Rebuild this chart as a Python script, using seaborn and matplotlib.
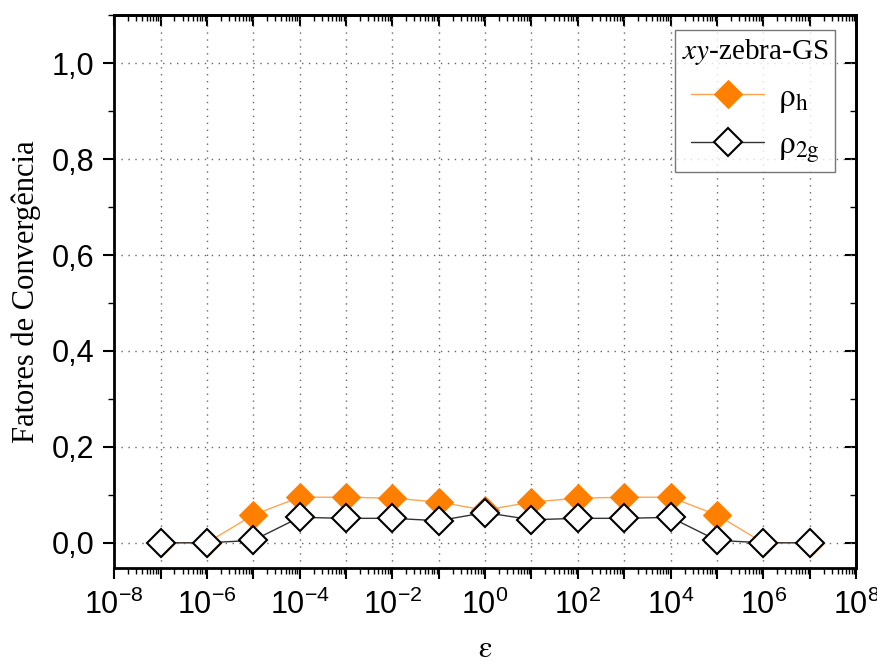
import numpy as np
import matplotlib
matplotlib.use("Agg")
import matplotlib.pyplot as plt
import matplotlib.ticker as mticker
import seaborn as sns

# dados
eps = [1e-7, 1e-6, 1e-5, 1e-4, 1e-3, 1e-2, 1e-1, 1e0,
       1e1, 1e2, 1e3, 1e4, 1e5, 1e6, 1e7]
rho_h = [0.0, 0.0, 0.058, 0.095, 0.095, 0.093, 0.085, 0.068,
         0.085, 0.093, 0.095, 0.095, 0.058, 0.0, 0.0]
rho_2g = [0.0, 0.0, 0.005, 0.053, 0.051, 0.051, 0.046, 0.063,
          0.048, 0.051, 0.051, 0.053, 0.005, 0.0, 0.0]

sns.set_style("white")
plt.rcParams['font.family'] = ['Liberation Sans', 'DejaVu Sans']
plt.rcParams['mathtext.fontset'] = 'stix'
for k in ['text.color', 'axes.labelcolor', 'xtick.color', 'ytick.color']:
    plt.rcParams[k] = 'black'

fig = plt.figure(figsize=(8.78, 6.64), dpi=100)
ax = fig.add_axes([0.130, 0.145, 0.845, 0.832])

# curvas
sns.lineplot(x=eps, y=rho_h, ax=ax, color='#FFA54F', linewidth=1.0,
             marker='D', markersize=14, markerfacecolor='#FF8000',
             markeredgecolor='#FF8000', label=r'$\mathrm{\rho_h}$')
sns.lineplot(x=eps, y=rho_2g, ax=ax, color='#333333', linewidth=1.0,
             marker='D', markersize=14, markerfacecolor='white',
             markeredgecolor='black', markeredgewidth=1.5,
             label=r'$\mathrm{\rho_{2g}}$')

ax.set_xscale('log')
ax.set_xlim(1e-8, 1e8)
ax.set_ylim(-0.052, 1.1)

# eixos / ticks
ax.xaxis.set_major_locator(mticker.LogLocator(base=10, numticks=20))
ax.xaxis.set_minor_locator(mticker.LogLocator(base=10, subs=np.arange(2, 10), numticks=20))
ax.xaxis.set_major_formatter(mticker.FuncFormatter(
    lambda v, p: r'$\mathregular{10^{%d}}$' % round(np.log10(v)) if round(np.log10(v)) % 2 == 0 else ''))
ax.yaxis.set_major_locator(mticker.MultipleLocator(0.2))
ax.yaxis.set_minor_locator(mticker.MultipleLocator(0.1))
ax.yaxis.set_major_formatter(mticker.FuncFormatter(lambda v, p: ('%.1f' % v).replace('.', ',')))

ax.tick_params(axis='both', which='major', direction='out', length=8, width=1.5,
               labelsize=22, bottom=True, left=True)
ax.tick_params(axis='both', which='minor', direction='out', length=4, width=1.0,
               bottom=True, left=True)
ax.tick_params(axis='y', pad=6)
ax.tick_params(axis='x', pad=8)

# ticks internos no topo e à direita
top = ax.secondary_xaxis('top')
top.xaxis.set_major_locator(mticker.LogLocator(base=10, numticks=20))
top.xaxis.set_minor_locator(mticker.LogLocator(base=10, subs=np.arange(2, 10), numticks=20))
top.tick_params(which='major', direction='in', length=8, width=1.5, labeltop=False)
top.tick_params(which='minor', direction='in', length=4, width=1.0)
top.spines['top'].set_linewidth(2)
right = ax.secondary_yaxis('right')
right.yaxis.set_major_locator(mticker.MultipleLocator(0.2))
right.yaxis.set_minor_locator(mticker.MultipleLocator(0.1))
right.tick_params(which='major', direction='in', length=8, width=1.5, labelright=False)
right.tick_params(which='minor', direction='in', length=4, width=1.0)
right.spines['right'].set_linewidth(2)

for s in ax.spines.values():
    s.set_linewidth(2)
    s.set_color('black')

# grade pontilhada (apenas nas divisões principais)
ax.grid(False, which='minor')
ax.grid(True, which='major', axis='both', linestyle=(0, (1, 4)), color='#666666', linewidth=1.0)

ax.set_xlabel(r'$\mathrm{\varepsilon}$', fontsize=22, family='Liberation Serif', labelpad=10)
ax.set_ylabel('Fatores de Convergência', fontsize=22, family='Liberation Serif', labelpad=8)

leg = ax.legend(title=r'$\mathit{xy}$-zebra-GS', loc='upper right',
                bbox_to_anchor=(0.972, 0.973), borderaxespad=0, fontsize=24, title_fontsize=21,
                frameon=True, fancybox=False, edgecolor='#555555',
                handlelength=2.2, handletextpad=0.4, borderpad=0.2, labelspacing=0.45)
leg.get_title().set_family('Liberation Serif')
leg.get_frame().set_linewidth(1.0)

fig.savefig('out.png', dpi=100)
